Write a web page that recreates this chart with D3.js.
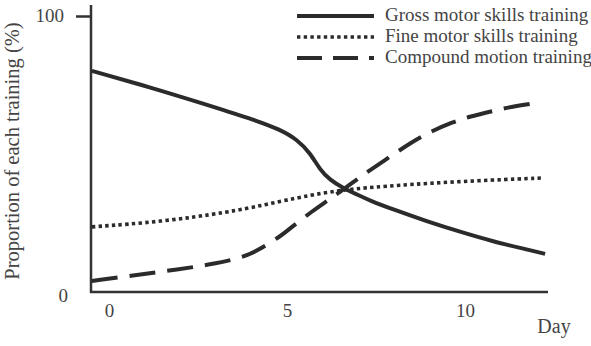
<!doctype html>
<html>
<head>
<meta charset="UTF-8">
<title>Training proportion by day</title>
<script src="https://d3js.org/d3.v7.min.js"></script>
<style>
  body { margin: 0; background: #fff; }
  svg text { font-family: "Liberation Serif", "Times New Roman", serif; fill: #444; }
</style>
</head>
<body>
<svg id="chart" width="591" height="346"></svg>
<script>
// values (day, % of each training)
var grossDay = [-0.48, 1.15, 2.56, 4.04, 4.80, 5.28, 5.65, 5.93, 6.21, 6.57, 6.97, 7.33, 7.98, 8.93, 9.86, 10.79, 11.74, 12.25];
var grossPct = [80.1, 74.2, 68.6, 62.6, 58.9, 55.3, 50.4, 44.2, 40.6, 37.7, 35.3, 33.1, 29.9, 25.6, 21.8, 18.3, 15.4, 13.8];

var fineDay = [-0.48, 1.45, 3.40, 4.33, 5.28, 6.01, 6.63, 7.33, 8.93, 10.79, 12.16];
var finePct = [23.6, 25.4, 29.0, 31.5, 34.1, 35.9, 37.0, 37.9, 39.4, 40.6, 41.3];

var compDay = [-0.48, 0.67, 1.85, 3.03, 3.76, 4.16, 4.80, 5.08, 5.73, 6.12, 6.63, 7.05, 7.70, 8.54, 9.02, 9.66, 10.14, 10.79, 11.26, 12.02];
var compPct = [4.0, 6.0, 8.0, 10.3, 12.6, 14.9, 20.0, 23.0, 29.5, 32.9, 37.6, 41.6, 47.4, 54.6, 58.0, 61.6, 63.6, 65.6, 67.0, 68.5];

var seriesNames = ["Gross motor skills training", "Fine motor skills training", "Compound motion training"];
var xTicks = [0, 5, 10];
var yTicks = [0, 100];

var svg = d3.select("#chart");

var x = d3.scaleLinear().domain([0, 10]).range([109, 465]);
var y = d3.scaleLinear().domain([0, 100]).range([292, 16]);

var ink = "#2b2b2b";
var styles = [
  { width: 4, dash: null },
  { width: 3.6, dash: "3.4,3.3" },
  { width: 4, dash: "26,12" }
];

// axes
svg.append("line")
  .attr("x1", 91).attr("x2", 91).attr("y1", 5).attr("y2", y(0) + 1)
  .attr("stroke", "#333").attr("stroke-width", 2.5);
svg.append("line")
  .attr("x1", 90).attr("x2", 548).attr("y1", y(0)).attr("y2", y(0))
  .attr("stroke", "#333").attr("stroke-width", 2.5);

var yAxis = svg.append("g")
  .attr("transform", "translate(91,0)")
  .call(d3.axisLeft(y).tickValues(yTicks).tickSize(15).tickPadding(12));
yAxis.select(".domain").remove();
yAxis.selectAll(".tick line").attr("stroke", "#333").attr("stroke-width", 2.5)
  .filter(function(d) { return d === 0; }).remove();
yAxis.selectAll(".tick text")
  .style("font-size", "19px").style("font-family", "Liberation Serif, serif")
  .attr("fill", "#444")
  .attr("dy", function(d) { return d === 0 ? "0.5em" : "0.3em"; })
  .attr("x", function(d) { return d === 0 ? -23 : -27; });

var xAxis = svg.append("g")
  .attr("transform", "translate(0," + y(0) + ")")
  .call(d3.axisBottom(x).tickValues(xTicks).tickSize(0).tickPadding(12));
xAxis.select(".domain").remove();
xAxis.selectAll(".tick text")
  .style("font-size", "19px").style("font-family", "Liberation Serif, serif")
  .attr("fill", "#444");

svg.append("text")
  .attr("x", 554).attr("y", 333)
  .attr("text-anchor", "middle")
  .style("font-size", "20px")
  .text("Day");

svg.append("text")
  .attr("transform", "translate(19,151) rotate(-90)")
  .attr("text-anchor", "middle")
  .style("font-size", "20.5px")
  .text("Proportion of each training (%)");

// series
var line = d3.line()
  .x(function(d) { return x(d[0]); })
  .y(function(d) { return y(d[1]); })
  .curve(d3.curveBasis);

var series = [
  d3.zip(grossDay, grossPct),
  d3.zip(fineDay, finePct),
  d3.zip(compDay, compPct)
];

svg.selectAll("path.series")
  .data(series)
  .join("path")
  .attr("class", "series")
  .attr("d", line)
  .attr("fill", "none")
  .attr("stroke", ink)
  .attr("stroke-width", function(d, i) { return styles[i].width; })
  .attr("stroke-dasharray", function(d, i) { return styles[i].dash; });

// legend
var legend = svg.append("g").attr("transform", "translate(297,16)");
var rows = legend.selectAll("g")
  .data(seriesNames)
  .join("g")
  .attr("transform", function(d, i) { return "translate(0," + (i * 21) + ")"; });
rows.append("line")
  .attr("x1", 0).attr("x2", 77).attr("y1", 0).attr("y2", 0)
  .attr("stroke", ink)
  .attr("stroke-width", function(d, i) { return styles[i].width; })
  .attr("stroke-dasharray", function(d, i) { return i === 2 ? "25,11" : styles[i].dash; });
rows.append("text")
  .attr("x", 88).attr("y", 5)
  .style("font-size", "19px")
  .text(function(d) { return d; });
</script>
</body>
</html>
